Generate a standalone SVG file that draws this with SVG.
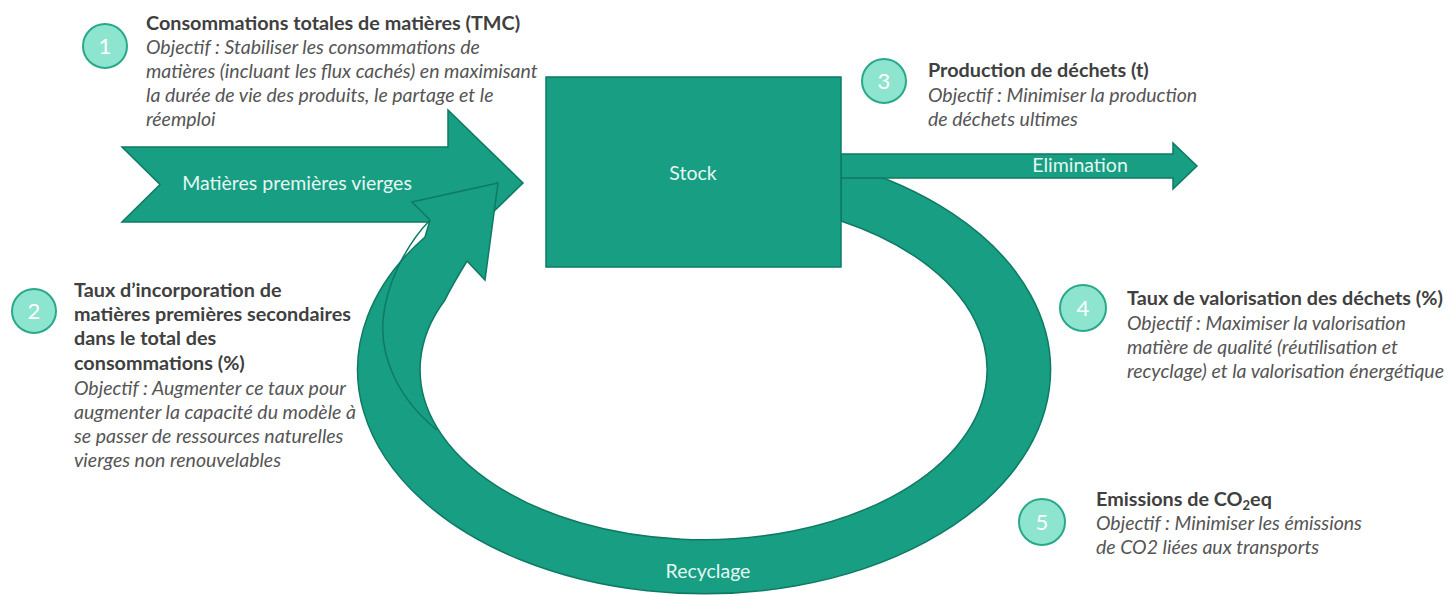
<svg xmlns="http://www.w3.org/2000/svg" width="1451" height="596" viewBox="0 0 1451 596">
  <style>
    .flow { fill: #179e83; stroke: #0f7a64; stroke-width: 1.5; stroke-linejoin: miter; }
    .seam { fill: none; stroke: #0f7a64; stroke-width: 1.5; }
    .lbl { font-family: Lato, "Open Sans", sans-serif; font-size: 19.5px; fill: #e6f7f1; }
    .ttl { font-family: Lato, "Open Sans", sans-serif; font-size: 19.8px; font-weight: 700; fill: #404040; }
    .obj { font-family: Lato, "Open Sans", sans-serif; font-size: 19.5px; font-style: italic; fill: #555555; }
    .badge circle { fill: #8ee5cf; stroke: #2aa88a; stroke-width: 2; }
    .badge text { font-family: Lato, "Open Sans", sans-serif; font-size: 22px; fill: #ffffff; text-anchor: middle; }
  </style>

  <rect width="1451" height="596" fill="#ffffff"/>

  <!-- flows -->
  <g id="connectors">
    <!-- incoming virgin raw materials -->
    <g id="flow-virgin">
      <path class="flow" d="M122,147 L448,147 L448,110 L523,183 L448,256 L448,222 L122,222 L160,184.5 Z"/>
      <text class="lbl" x="297" y="190" text-anchor="middle">Matières premières vierges</text>
    </g>
    <!-- recycling loop returning to the input -->
    <g id="flow-recycling">
      <path class="flow" d="M841,164 A346.5,224 0 1 1 425,237 L430,220 L412,202 L498,183 L485,280 L467,261 C458,276 450,289 445,300 A283.5,170 0 1 0 841,221 Z"/>
      <path class="seam" d="M430,220 C405,246 386,285 383,320 C380,360 400,400 437,430"/>
      <text class="lbl" x="708" y="578" text-anchor="middle">Recyclage</text>
    </g>
    <!-- outgoing disposal -->
    <g id="flow-elimination">
      <path class="flow" d="M841,154 L1173,154 L1173,143 L1197,166 L1173,189 L1173,178 L841,178 Z"/>
      <text class="lbl" x="1080" y="172" text-anchor="middle">Elimination</text>
    </g>
  </g>

  <!-- stock -->
  <g id="node-stock">
    <rect class="flow" x="546" y="77" width="295" height="190"/>
    <text class="lbl" x="693" y="180" text-anchor="middle">Stock</text>
  </g>

  <!-- indicators -->
  <g id="indicator-1">
    <g class="badge"><circle cx="105" cy="46" r="22"/><text x="105" y="54">1</text></g>
    <text class="ttl" x="146" y="30">Consommations totales de matières (TMC)</text>
    <text class="obj" x="146" y="54">Objectif : Stabiliser les consommations de</text>
    <text class="obj" x="146" y="78">matières (incluant les flux cachés) en maximisant</text>
    <text class="obj" x="146" y="102">la durée de vie des produits, le partage et le</text>
    <text class="obj" x="146" y="126">réemploi</text>
  </g>

  <g id="indicator-2">
    <g class="badge"><circle cx="34" cy="311" r="22"/><text x="34" y="319">2</text></g>
    <text class="ttl" x="74" y="297">Taux d’incorporation de</text>
    <text class="ttl" x="74" y="321">matières premières secondaires</text>
    <text class="ttl" x="74" y="345">dans le total des</text>
    <text class="ttl" x="74" y="370">consommations (%)</text>
    <text class="obj" x="74" y="395">Objectif : Augmenter ce taux pour</text>
    <text class="obj" x="74" y="419">augmenter la capacité du modèle à</text>
    <text class="obj" x="74" y="443">se passer de ressources naturelles</text>
    <text class="obj" x="74" y="467">vierges non renouvelables</text>
  </g>

  <g id="indicator-3">
    <g class="badge"><circle cx="884" cy="81" r="22"/><text x="884" y="89">3</text></g>
    <text class="ttl" x="928" y="77">Production de déchets (t)</text>
    <text class="obj" x="928" y="102">Objectif : Minimiser la production</text>
    <text class="obj" x="928" y="126">de déchets ultimes</text>
  </g>

  <g id="indicator-4">
    <g class="badge"><circle cx="1083" cy="308" r="23"/><text x="1083" y="316">4</text></g>
    <text class="ttl" x="1127" y="305">Taux de valorisation des déchets (%)</text>
    <text class="obj" x="1127" y="330">Objectif : Maximiser la valorisation</text>
    <text class="obj" x="1127" y="354">matière de qualité (réutilisation et</text>
    <text class="obj" x="1127" y="378">recyclage) et la valorisation énergétique</text>
  </g>

  <g id="indicator-5">
    <g class="badge"><circle cx="1042" cy="522" r="23"/><text x="1042" y="530">5</text></g>
    <text class="ttl" x="1096" y="506">Emissions de CO<tspan font-size="13" dy="4">2</tspan><tspan dy="-4">eq</tspan></text>
    <text class="obj" x="1096" y="530">Objectif : Minimiser les émissions</text>
    <text class="obj" x="1096" y="554">de CO2 liées aux transports</text>
  </g>
</svg>
